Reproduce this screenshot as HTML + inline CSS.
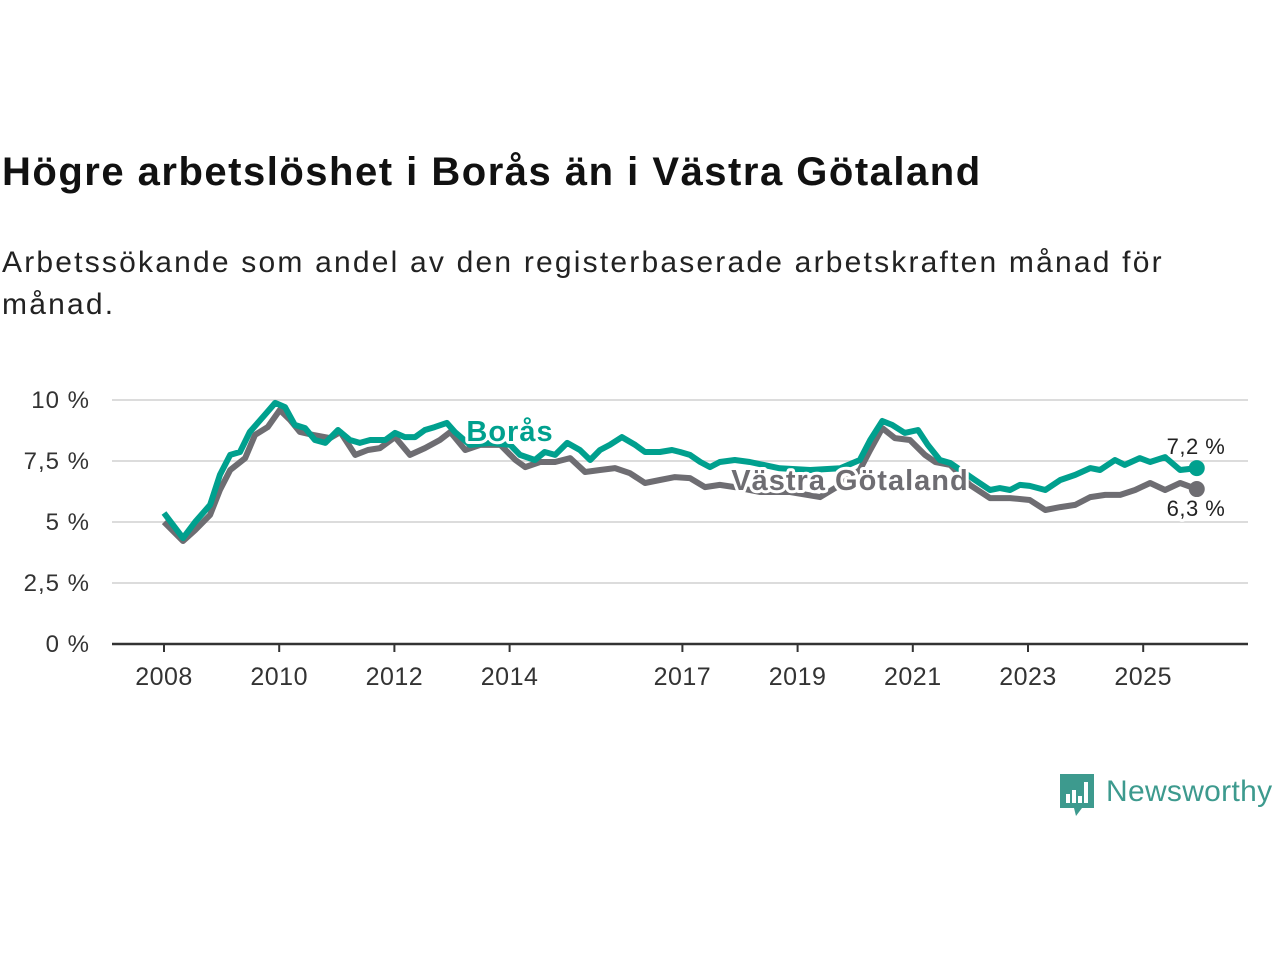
<!DOCTYPE html>
<html><head><meta charset="utf-8">
<style>
body{margin:0;width:1280px;height:960px;background:#fff;font-family:"Liberation Sans",sans-serif;position:relative;overflow:hidden}
h1{position:absolute;left:2px;top:150px;margin:0;font-size:40px;letter-spacing:1.5px;font-weight:bold;color:#111;white-space:nowrap}
p{position:absolute;left:2px;top:242px;margin:0;font-size:30px;letter-spacing:2.2px;line-height:42px;color:#222;width:1200px}
svg{position:absolute;left:0;top:0}
</style></head><body>
<h1>Högre arbetslöshet i Borås än i Västra Götaland</h1>
<p>Arbetssökande som andel av den registerbaserade arbetskraften månad för månad.</p>
<svg id="chart" width="1280" height="960"></svg>
<script>
const yTicks=[0,2.5,5,7.5,10];
const yTickLabels=["0 %","2,5 %","5 %","7,5 %","10 %"];
const xTicks=[2008,2010,2012,2014,2017,2019,2021,2023,2025];
const borasYears=[2008.00,2008.33,2008.54,2008.80,2008.97,2009.15,2009.32,2009.49,2009.75,2009.93,2010.10,2010.27,2010.45,2010.62,2010.80,2011.02,2011.23,2011.40,2011.58,2011.84,2012.01,2012.18,2012.36,2012.53,2012.70,2012.91,2013.05,2013.31,2013.66,2014.01,2014.18,2014.44,2014.61,2014.79,2015.00,2015.22,2015.40,2015.57,2015.74,2015.95,2016.18,2016.35,2016.61,2016.82,2016.96,2017.13,2017.31,2017.48,2017.65,2017.91,2018.17,2018.69,2019.22,2019.74,2020.08,2020.26,2020.47,2020.64,2020.86,2021.09,2021.26,2021.47,2021.65,2022.08,2022.34,2022.51,2022.69,2022.86,2023.03,2023.30,2023.56,2023.82,2024.08,2024.25,2024.51,2024.68,2024.94,2025.12,2025.38,2025.64,2025.93];
const borasValues=[5.37,4.34,5.0,5.70,6.93,7.75,7.87,8.69,9.39,9.88,9.71,8.98,8.85,8.36,8.24,8.77,8.36,8.24,8.36,8.36,8.65,8.48,8.48,8.77,8.89,9.06,8.69,8.16,8.24,8.16,7.75,7.54,7.87,7.75,8.24,7.95,7.54,7.95,8.16,8.48,8.16,7.87,7.87,7.95,7.87,7.75,7.46,7.25,7.46,7.54,7.46,7.2,7.13,7.2,7.54,8.36,9.14,8.98,8.65,8.77,8.16,7.54,7.42,6.72,6.31,6.39,6.31,6.52,6.48,6.31,6.72,6.93,7.21,7.13,7.54,7.34,7.62,7.46,7.66,7.13,7.21];
const vgYears=[2008.00,2008.33,2008.54,2008.80,2008.97,2009.15,2009.41,2009.58,2009.80,2010.01,2010.19,2010.36,2010.59,2010.88,2011.06,2011.32,2011.54,2011.75,2012.01,2012.27,2012.53,2012.79,2012.97,2013.23,2013.49,2013.84,2014.10,2014.27,2014.53,2014.79,2015.05,2015.31,2015.57,2015.83,2016.09,2016.35,2016.61,2016.87,2017.13,2017.39,2017.65,2017.91,2018.35,2018.87,2019.39,2019.74,2020.08,2020.26,2020.47,2020.69,2020.95,2021.21,2021.39,2021.65,2021.99,2022.34,2022.69,2023.03,2023.30,2023.56,2023.82,2024.08,2024.34,2024.60,2024.86,2025.12,2025.38,2025.64,2025.93];
const vgValues=[5.0,4.22,4.67,5.29,6.31,7.13,7.62,8.57,8.89,9.59,9.18,8.69,8.57,8.44,8.69,7.75,7.95,8.03,8.48,7.75,8.03,8.36,8.69,7.95,8.16,8.16,7.54,7.25,7.46,7.46,7.62,7.05,7.13,7.21,7.0,6.6,6.72,6.84,6.8,6.43,6.52,6.43,6.23,6.23,6.02,6.52,7.13,7.95,8.85,8.44,8.36,7.75,7.46,7.34,6.52,5.98,5.98,5.9,5.49,5.61,5.70,6.02,6.11,6.11,6.31,6.6,6.31,6.6,6.35];
const NS="http://www.w3.org/2000/svg";
const svg=document.getElementById('chart');
const X=y=>164+(y-2008)*57.6;
const Y=v=>644-v*24.4;
function mk(t,a,txt){const e=document.createElementNS(NS,t);for(const k in a)e.setAttribute(k,a[k]);if(txt!==undefined)e.textContent=txt;svg.appendChild(e);return e;}
yTicks.forEach((v,i)=>{
  if(v>0){const g=mk('line',{x1:112,x2:1248,y1:Y(v),y2:Y(v),stroke:'#dcdcdc','stroke-width':2});
  
  }
  const t=mk('text',{x:90,y:Y(v)+8,'text-anchor':'end','font-size':24,'letter-spacing':1,fill:'#333'},yTickLabels[i]);
  
  
});
const ax=mk('line',{x1:112,x2:1248,y1:644,y2:644,stroke:'#333','stroke-width':2.5});


xTicks.forEach(yr=>{
  const tk=mk('line',{x1:X(yr),x2:X(yr),y1:644,y2:652,stroke:'#333','stroke-width':2});
  
  
  const t=mk('text',{x:X(yr),y:685,'text-anchor':'middle','font-size':25,'letter-spacing':0.5,fill:'#333'},String(yr));
  
  
});
function line(ys,vs,c,name){
  const d=ys.map((y,i)=>(i?'L':'M')+X(y).toFixed(1)+','+Y(vs[i]).toFixed(1)).join('');
  const p=mk('path',{d:d,fill:'none',stroke:c,'stroke-width':6,'stroke-linejoin':'round'});
  
  
  const n=ys.length-1;
  const dot=mk('circle',{cx:X(ys[n]),cy:Y(vs[n]),r:8,fill:c});
  
  
}
line(vgYears,vgValues,'#6e6d72','vastra-gotaland-line');
line(borasYears,borasValues,'#00a08e','boras-line');
function lab(x,y,txt,c,name,size,anchor,bold,ls){
  const t=mk('text',{x:x,y:y,'text-anchor':anchor,'font-size':size,'letter-spacing':ls,'font-weight':bold?'bold':'normal',fill:c,stroke:'#fff','stroke-width':6,'paint-order':'stroke','stroke-linejoin':'round'},txt);
  
  
}
lab(510,441,'Borås','#00a08e','boras-label',29,'middle',true,1);
lab(850,490,'Västra Götaland','#6e6d72','vastra-gotaland-label',29,'middle',true,1);
lab(1196,454,'7,2 %','#222','boras-end-value',22,'middle',false,0.5);
lab(1196,516,'6,3 %','#222','vastra-gotaland-end-value',22,'middle',false,0.5);
</script>
<div style="position:absolute;left:1060px;top:774px;display:flex;align-items:center">
<svg width="34" height="44" style="position:static" viewBox="0 0 34 44"><path d="M0 0H34V34H22L16 42L14 34H0Z" fill="#3d9a8e"/><rect x="6" y="20" width="4" height="9" fill="#fff"/><rect x="12" y="16" width="4" height="13" fill="#fff"/><rect x="18" y="22" width="4" height="7" fill="#fff"/><rect x="24" y="8" width="4" height="21" fill="#fff"/></svg>
<span style="font-size:30px;color:#3d9a8e;margin-left:12px;margin-top:-8px;letter-spacing:0.3px">Newsworthy</span></div>
</body></html>
